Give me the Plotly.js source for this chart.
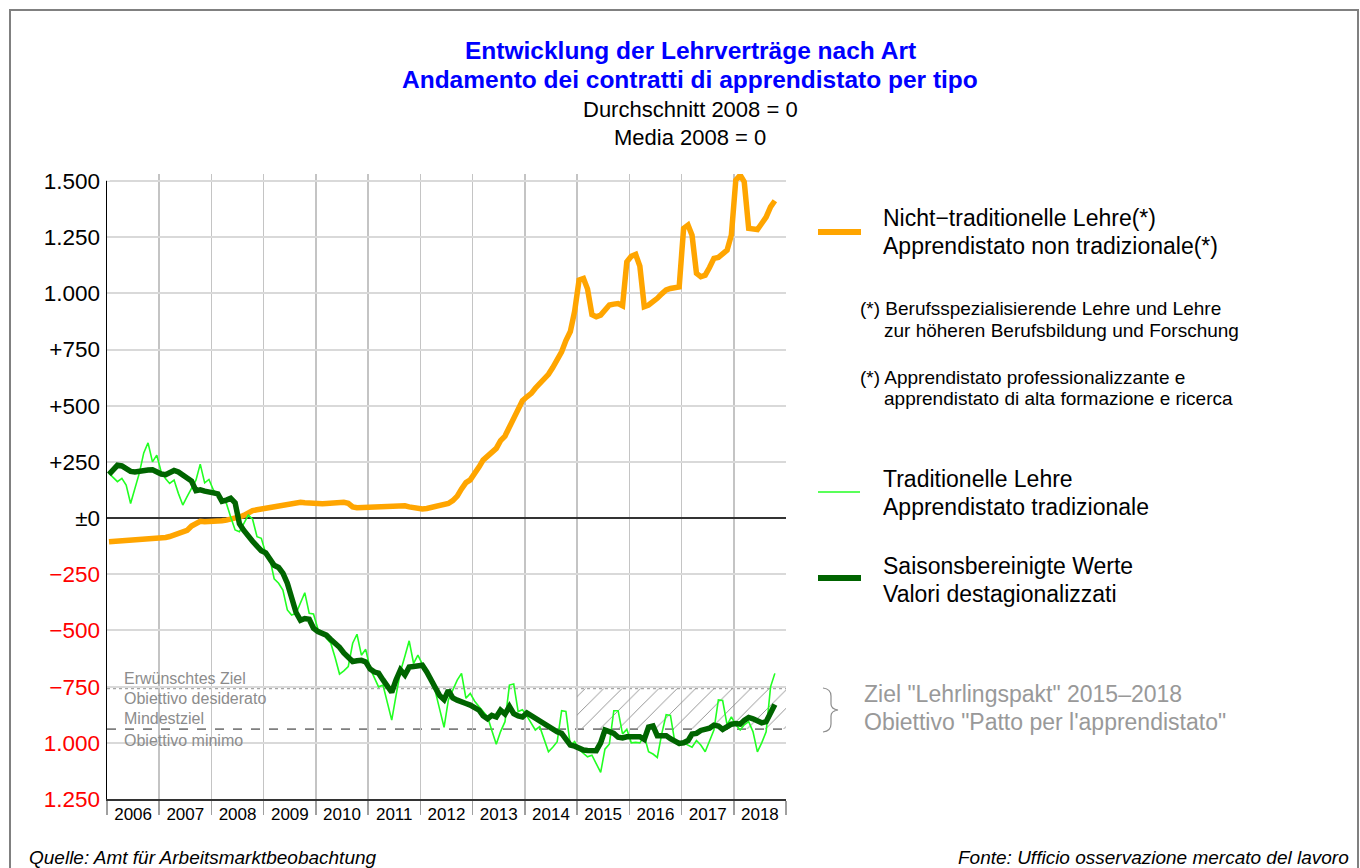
<!DOCTYPE html>
<html>
<head>
<meta charset="utf-8">
<script src="https://cdn.plot.ly/plotly-3.0.1.min.js"></script>
<style>
  html, body { margin: 0; padding: 0; background: #fff; }
  #wrap { position: relative; width: 1360px; height: 868px; overflow: hidden; }
  #chart { position: absolute; left: 0; top: 0; width: 1360px; height: 868px; }
  #frame { position: absolute; left: 9px; top: 9px; width: 1346px; height: 900px; border: 2px solid #808080; pointer-events: none; }
</style>
</head>
<body>
<div id="wrap"><div id="chart"></div><div id="frame"></div></div>
<script>
// ---------------- DATA (monthly, Jan 2006 – Oct 2018, average 2008 = 0) ----------------
const startYear = 2006;

// Non-traditional apprenticeship (orange)
const nonTraditional = [
  -105,-104,-103,-102,-101,-100,-99,-98,-97,-96,-95,-94,          // 2006
  -90,-86,-82,-76,-70,-64,-55,-35,-21,-14,-16,-16,                // 2007
  -15,-14,-12,-9,-6,-2,5,12,25,33,37,40,                          // 2008
  43,48,53,57,59,61,62,66,70,68,66,63,                            // 2009
  63,64,65,67,69,70,70,66,50,46,47,50,                            // 2010
  53,54,55,56,56,57,58,57,55,50,45,41,                            // 2011
  41,43,47,51,53,58,65,78,98,130,158,170,                         // 2012
  195,228,258,276,292,310,345,365,405,448,485,522,                // 2013
  540,555,578,599,612,640,670,700,740,790,830,920,                // 2014
  1059,1066,1020,905,896,903,925,948,952,955,945,1140,            // 2015
  1165,1173,1121,941,948,960,978,998,1015,1022,1027,1029,         // 2016
  1289,1304,1259,1089,1074,1081,1115,1156,1160,1175,1192,1260,    // 2017
  1504,1526,1496,1289,1286,1284,1311,1339,1385,1412               // 2018
];

// Traditional apprenticeship (light green)
const traditional = [
  199,180,162,177,147,65,130,200,290,335,250,280,                 // 2006
  205,175,154,169,110,58,95,132,169,240,157,172,                  // 2007
  125,105,85,65,5,-53,-61,-25,13,-5,-83,-90,                      // 2008
  -157,-187,-270,-290,-320,-409,-431,-424,-380,-332,-424,-427,    // 2009
  -495,-506,-535,-557,-620,-694,-680,-661,-557,-517,-610,-584,    // 2010
  -669,-710,-751,-743,-820,-899,-790,-683,-615,-546,-647,-610,    // 2011
  -650,-690,-730,-772,-850,-931,-809,-765,-721,-691,-802,-780,    // 2012
  -815,-840,-862,-884,-945,-1006,-950,-906,-743,-738,-861,-853,   // 2013
  -880,-910,-943,-928,-985,-1040,-1020,-995,-857,-860,-1012,-994, // 2014
  -1030,-1045,-1062,-1055,-1090,-1132,-1028,-1005,-857,-857,-960,-940, // 2015
  -1000,-998,-1000,-970,-1040,-1050,-1065,-960,-875,-878,-998,-1012,   // 2016
  -1000,-1010,-1020,-990,-1010,-1040,-990,-943,-809,-812,-920,-885,    // 2017
  -920,-943,-920,-906,-950,-1040,-1000,-951,-751,-691                  // 2018
];

// Seasonally adjusted values (dark green)
const seasonallyAdjusted = [
  195,217,235,232,218,208,205,210,213,214,215,205,                // 2006
  196,193,205,212,205,193,178,165,122,126,120,113,                // 2007
  112,108,75,80,88,68,-25,-55,-83,-103,-125,-145,                 // 2008
  -155,-180,-210,-220,-245,-290,-345,-420,-455,-447,-450,-490,    // 2009
  -505,-515,-521,-540,-555,-575,-600,-620,-638,-635,-633,-640,    // 2010
  -672,-685,-690,-720,-750,-775,-720,-675,-698,-663,-660,-656,    // 2011
  -655,-685,-725,-755,-790,-808,-767,-800,-810,-815,-825,-832,    // 2012
  -842,-855,-880,-893,-878,-885,-855,-872,-838,-870,-880,-885,    // 2013
  -867,-880,-888,-902,-915,-928,-940,-951,-958,-985,-1010,-1015,  // 2014
  -1025,-1032,-1034,-1035,-1035,-1000,-943,-950,-958,-975,-978,-973, // 2015
  -975,-976,-973,-985,-930,-925,-968,-968,-968,-982,-995,-1003,     // 2016
  -1000,-990,-961,-958,-945,-938,-935,-921,-925,-940,-930,-917,     // 2017
  -914,-917,-900,-887,-893,-900,-911,-906,-869,-830                 // 2018
];

// "Lehrlingspakt" targets 2015–2018
const targetDesired = -758;
const targetMinimum = -939;
const pactStart = '2015-01-01';
const pactEnd = '2019-01-01';

// Axis ticks
const yTickVals = [-1250,-1000,-750,-500,-250,0,250,500,750,1000,1250,1500];
const yTickText = ['1.250','1.000','\u2212750','\u2212500','\u2212250','\u00b10','+250','+500','+750','1.000','1.250','1.500'];
const yMin = -1250, yGridTop = 1500;

// ---------------- BUILD ----------------
const pad = n => (n < 10 ? '0' + n : '' + n);
const months = nonTraditional.map((_, i) => (startYear + Math.floor(i / 12)) + '-' + pad(i % 12 + 1) + '-15');

const FONT = 'Liberation Sans, Arial, Helvetica, sans-serif';
const RED = '#ff0000';
const yTickHtml = yTickVals.map((v, k) => v < 0 ? '<span style="color:' + RED + '">' + yTickText[k] + '</span>' : yTickText[k]);

// Plot area in pixels: the 1500 gridline sits at y=181, a little headroom above it
const L = 107, R = 786, T = 174, B = 799, GRIDTOP_PX = 181;
const unitPx = (B - GRIDTOP_PX) / (yGridTop - yMin);
const yMax = yGridTop + (GRIDTOP_PX - T) / unitPx;
const px = X => (X - L) / (R - L);
const py = Y => (B - Y) / (B - T);

const traces = [
  {
    x: [pactStart, pactEnd, pactEnd, pactStart, pactStart],
    y: [targetMinimum, targetMinimum, targetDesired, targetDesired, targetMinimum],
    type: 'scatter', mode: 'lines', fill: 'toself',
    fillcolor: 'rgba(255,255,255,0)',
    fillpattern: { shape: '/', fgcolor: '#8c8c8c', bgcolor: 'rgba(255,255,255,0)', size: 13, solidity: 0.07 },
    line: { width: 0, color: 'rgba(0,0,0,0)' }, hoverinfo: 'skip'
  },
  { x: months, y: nonTraditional, type: 'scatter', mode: 'lines', line: { color: '#FFA500', width: 5.5 } },
  { x: months, y: traditional, type: 'scatter', mode: 'lines', line: { color: '#22ff22', width: 1.6 } },
  { x: months, y: seasonallyAdjusted, type: 'scatter', mode: 'lines', line: { color: '#006400', width: 5.5 } }
];

function ann(text, X, Y, opts) {
  return Object.assign({
    text: text, x: px(X), y: py(Y), xref: 'paper', yref: 'paper',
    xanchor: 'left', yanchor: 'middle', showarrow: false,
    font: { family: FONT, size: 23, color: '#000' }
  }, opts || {});
}

const annotations = [
  ann('<b>Entwicklung der Lehrverträge nach Art</b>', 690, 50, { xanchor: 'center', font: { family: FONT, size: 24.5, color: '#0000ff' } }),
  ann('<b>Andamento dei contratti di apprendistato per tipo</b>', 690, 80, { xanchor: 'center', font: { family: FONT, size: 24.5, color: '#0000ff' } }),
  ann('Durchschnitt 2008 = 0', 690, 110, { xanchor: 'center', font: { family: FONT, size: 22, color: '#000' } }),
  ann('Media 2008 = 0', 690, 138, { xanchor: 'center', font: { family: FONT, size: 22, color: '#000' } }),

  ann('Nicht\u2212traditionelle Lehre(*)', 881, 218),
  ann('Apprendistato non tradizionale(*)', 881, 246),
  ann('(*) Berufsspezialisierende Lehre und Lehre', 858, 308, { font: { family: FONT, size: 19, color: '#000' } }),
  ann('zur höheren Berufsbildung und Forschung', 882, 330, { font: { family: FONT, size: 19, color: '#000' } }),
  ann('(*) Apprendistato professionalizzante e', 858, 377, { font: { family: FONT, size: 19, color: '#000' } }),
  ann('apprendistato di alta formazione e ricerca', 882, 398, { font: { family: FONT, size: 19, color: '#000' } }),
  ann('Traditionelle Lehre', 881, 479),
  ann('Apprendistato tradizionale', 881, 507),
  ann('Saisonsbereinigte Werte', 881, 566),
  ann('Valori destagionalizzati', 881, 594),
  ann('Ziel "Lehrlingspakt" 2015\u20132018', 862, 694, { font: { family: FONT, size: 23, color: '#999999' } }),
  ann('Obiettivo "Patto per l\'apprendistato"', 862, 722, { font: { family: FONT, size: 23, color: '#999999' } }),

  ann('Erwünschtes Ziel', 122, 678, { font: { family: FONT, size: 16, color: '#8c8c8c' } }),
  ann('Obiettivo desiderato', 122, 698, { font: { family: FONT, size: 16, color: '#8c8c8c' } }),
  ann('Mindestziel', 122, 718, { font: { family: FONT, size: 16, color: '#8c8c8c' } }),
  ann('Obiettivo minimo', 122, 740, { font: { family: FONT, size: 16, color: '#8c8c8c' } }),

  ann('<i>Quelle: Amt für Arbeitsmarktbeobachtung</i>', 27, 857, { font: { family: FONT, size: 19, color: '#000' } }),
  ann('<i>Fonte: Ufficio osservazione mercato del lavoro</i>', 1351, 857, { xanchor: 'right', font: { family: FONT, size: 19, color: '#000' } })
];

function P(X, Y) { return px(X).toFixed(5) + ',' + py(Y).toFixed(5); }
const bracePath = 'M' + P(823, 688) + ' Q' + P(831, 689) + ' ' + P(831, 696) +
  ' L' + P(831, 704) + ' Q' + P(831, 709) + ' ' + P(838, 710) +
  ' Q' + P(831, 711) + ' ' + P(831, 716) + ' L' + P(831, 724) +
  ' Q' + P(831, 731) + ' ' + P(823, 732);

const shapes = [
  // blank headroom above the top gridline (covers gridlines, stays under the traces)
  { type: 'rect', xref: 'paper', yref: 'y', x0: 0, x1: 1.01, y0: yGridTop + 1, y1: yMax, fillcolor: '#ffffff', line: { width: 0 }, layer: 'between' },
  { type: 'rect', xref: 'paper', yref: 'y', x0: -0.006, x1: 0.004, y0: yGridTop + 1, y1: yMax, fillcolor: '#ffffff', line: { width: 0 }, layer: 'above' },
  { type: 'line', xref: 'paper', yref: 'y', x0: 0, x1: 1, y0: targetDesired, y1: targetDesired, line: { color: '#a6a6a6', width: 1.5, dash: 'dot' }, layer: 'below' },
  { type: 'line', xref: 'paper', yref: 'y', x0: 0, x1: 1, y0: targetMinimum, y1: targetMinimum, line: { color: '#7f7f7f', width: 1.6, dash: 'dash' }, layer: 'below' },
  { type: 'line', xref: 'paper', yref: 'paper', x0: px(818), x1: px(861), y0: py(232), y1: py(232), line: { color: '#FFA500', width: 6 } },
  { type: 'line', xref: 'paper', yref: 'paper', x0: px(818), x1: px(860), y0: py(492), y1: py(492), line: { color: '#22ff22', width: 1.6 } },
  { type: 'line', xref: 'paper', yref: 'paper', x0: px(818), x1: px(861), y0: py(578), y1: py(578), line: { color: '#006400', width: 6 } },
  { type: 'path', xref: 'paper', yref: 'paper', path: bracePath, line: { color: '#8c8c8c', width: 1.2 } }
];

const layout = {
  width: 1360, height: 868,
  margin: { l: L, r: 1360 - R, t: T, b: 868 - B, pad: 0 },
  paper_bgcolor: '#ffffff', plot_bgcolor: '#ffffff',
  showlegend: false,
  font: { family: FONT, color: '#000' },
  xaxis: {
    type: 'date', range: ['2006-01-01', '2019-01-01'],
    tick0: '2006-01-01', dtick: 'M12', tickformat: '%Y', ticklabelmode: 'period',
    ticks: 'outside', ticklen: 14, tickwidth: 1.5, tickcolor: '#a0a0a0',
    ticklabelstandoff: -15,
    tickfont: { family: FONT, size: 17, color: '#000' },
    showgrid: true, gridcolor: '#c4c4c4', gridwidth: 1.5,
    showline: true, linecolor: '#333', linewidth: 1.5,
    zeroline: false, fixedrange: true
  },
  yaxis: {
    range: [yMin, yMax],
    tickvals: yTickVals, ticktext: yTickHtml,
    ticks: '', ticklabelstandoff: 1,
    tickfont: { family: FONT, size: 22.5, color: '#000' },
    showgrid: true, gridcolor: '#d9d9d9', gridwidth: 2,
    showline: true, linecolor: '#000', linewidth: 1.5,
    zeroline: true, zerolinecolor: '#333', zerolinewidth: 1.5,
    fixedrange: true
  },
  annotations: annotations,
  shapes: shapes
};

Plotly.newPlot('chart', traces, layout, { staticPlot: true, displayModeBar: false });
</script>
</body>
</html>
